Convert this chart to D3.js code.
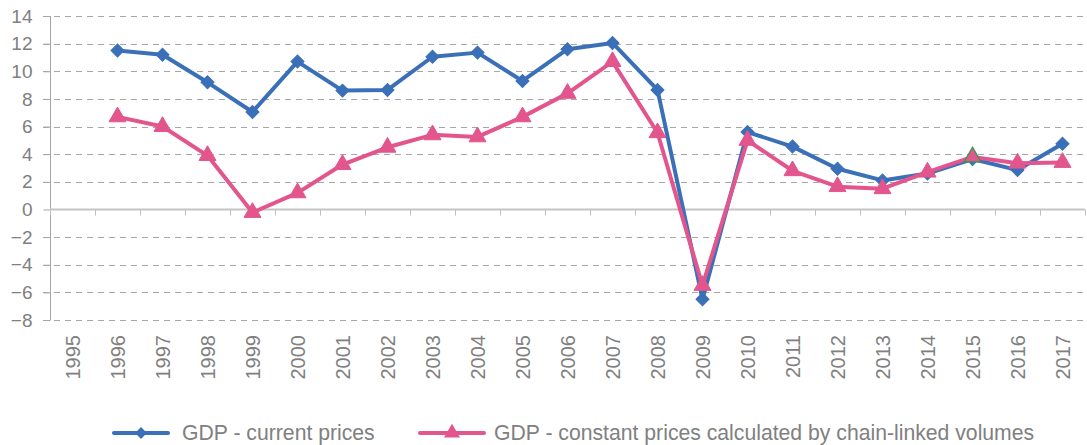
<!DOCTYPE html>
<html>
<head>
<meta charset="utf-8">
<script src="https://cdn.jsdelivr.net/npm/d3@7"></script>
<style>
  body { margin: 0; background: #fff; }
  svg { display: block; }
  text { font-family: "Liberation Sans", Arial, sans-serif; fill: #808080; }
</style>
</head>
<body>
<svg id="chart" width="1087" height="445"></svg>
<script>
const years = ["1995","1996","1997","1998","1999","2000","2001","2002","2003","2004","2005","2006","2007","2008","2009","2010","2011","2012","2013","2014","2015","2016","2017"];
const currentPrices = [null, 11.5, 11.2, 9.2, 7.05, 10.7, 8.6, 8.65, 11.05, 11.35, 9.3, 11.6, 12.05, 8.65, -6.5, 5.6, 4.55, 2.95, 2.1, 2.6, 3.65, 2.85, 4.75];
const constantPrices = [null, 6.7, 6.0, 3.9, -0.22, 1.2, 3.25, 4.5, 5.4, 5.25, 6.7, 8.4, 10.7, 5.55, -5.5, 5.0, 2.8, 1.65, 1.5, 2.7, 3.8, 3.35, 3.4];
const yTicks = [14, 12, 10, 8, 6, 4, 2, 0, -2, -4, -6, -8];
const seriesNames = ["GDP - current prices", "GDP - constant prices calculated by chain-linked volumes"];

(function () {
const blue = "#3A70B8", pink = "#E2558D";
const svg = d3.select("#chart");
const pL = 50, pR = 1085, pT = 16, pB = 320;

const x = d3.scaleBand().domain(years).range([pL, pR]).padding(0);
const y = d3.scaleLinear().domain([-8, 14]).range([pB, pT]);

// gridlines
svg.append("g").selectAll("line").data(yTicks.filter(d => d !== 0)).join("line")
  .attr("x1", pL - 7).attr("x2", pR)
  .attr("y1", d => Math.round(y(d)) + 0.5).attr("y2", d => Math.round(y(d)) + 0.5)
  .attr("stroke", "#A6A6A6").attr("stroke-width", 1).attr("stroke-dasharray", "6,5");

// y axis
const yAxis = svg.append("g").attr("transform", `translate(${pL + 0.5},0)`)
  .call(d3.axisLeft(y).tickValues(yTicks).tickSize(7).tickPadding(11).tickFormat(d3.format("d")));
yAxis.select(".domain").attr("stroke", "#A6A6A6").attr("d", `M0,${pT}V${pB}`);
yAxis.selectAll(".tick line").attr("stroke", "#A6A6A6");
yAxis.selectAll(".tick text").attr("font-size", 19).attr("fill", "#808080")
  .style("font-family", '"Liberation Sans", Arial, sans-serif');

// zero line with category ticks
const zeroY = Math.round(y(0)) + 0.5;
svg.append("line").attr("x1", pL).attr("x2", pR).attr("y1", zeroY).attr("y2", zeroY)
  .attr("stroke", "#C4C4C4").attr("stroke-width", 2);
svg.append("g").selectAll("line").data(years.concat(["end"])).join("line")
  .attr("x1", (d, i) => Math.round(pL + i * x.bandwidth()) + 0.5)
  .attr("x2", (d, i) => Math.round(pL + i * x.bandwidth()) + 0.5)
  .attr("y1", zeroY).attr("y2", zeroY + 6)
  .attr("stroke", "#BFBFBF").attr("stroke-width", 1);

// x labels
svg.append("g").selectAll("text").data(years).join("text")
  .attr("transform", d => `translate(${x(d) + x.bandwidth() / 2 + 7},335) rotate(-90)`)
  .attr("text-anchor", "end").attr("font-size", 20).text(d => d);

// lines
const lineGen = d3.line().defined(d => d.v !== null)
  .x(d => x(d.year) + x.bandwidth() / 2).y(d => y(d.v));

function drawSeries(vals, color, sym, rot, special) {
  const data = years.map((yr, i) => ({year: yr, v: vals[i], i}));
  svg.append("path").datum(data).attr("d", lineGen)
    .attr("fill", "none").attr("stroke", color).attr("stroke-width", 4).attr("stroke-linejoin", "round");
  svg.append("g").selectAll("path").data(data.filter(d => d.v !== null)).join("path")
    .attr("d", sym)
    .attr("transform", d => `translate(${x(d.year) + x.bandwidth() / 2},${y(d.v)}) rotate(${rot})`)
    .attr("fill", color)
    .attr("stroke", d => special && special(d) ? "#2E9A4A" : color)
    .attr("stroke-width", d => special && special(d) ? 1.2 : 1);
}
drawSeries(currentPrices, blue, d3.symbol().type(d3.symbolSquare).size(85), 45);
drawSeries(constantPrices, pink, d3.symbol().type(d3.symbolTriangle).size(125), 0, d => d.year === "2015");

// legend
const legY = 433;
const legend = [
  {name: seriesNames[0], color: blue, x1: 114, x2: 168, sym: d3.symbol().type(d3.symbolSquare).size(70), rot: 45, tx: 182},
  {name: seriesNames[1], color: pink, x1: 420, x2: 484, sym: d3.symbol().type(d3.symbolTriangle).size(110), rot: 0, tx: 494}
];
const lg = svg.append("g").selectAll("g").data(legend).join("g");
lg.append("line").attr("x1", d => d.x1).attr("x2", d => d.x2).attr("y1", legY).attr("y2", legY)
  .attr("stroke", d => d.color).attr("stroke-width", 4).attr("stroke-linecap", "round");
lg.append("path").attr("d", d => d.sym())
  .attr("transform", d => `translate(${(d.x1 + d.x2) / 2},${legY}) rotate(${d.rot})`)
  .attr("fill", d => d.color);
lg.append("text").attr("x", d => d.tx).attr("y", legY + 7).attr("font-size", 21.2).text(d => d.name);
})();
</script>
</body>
</html>
